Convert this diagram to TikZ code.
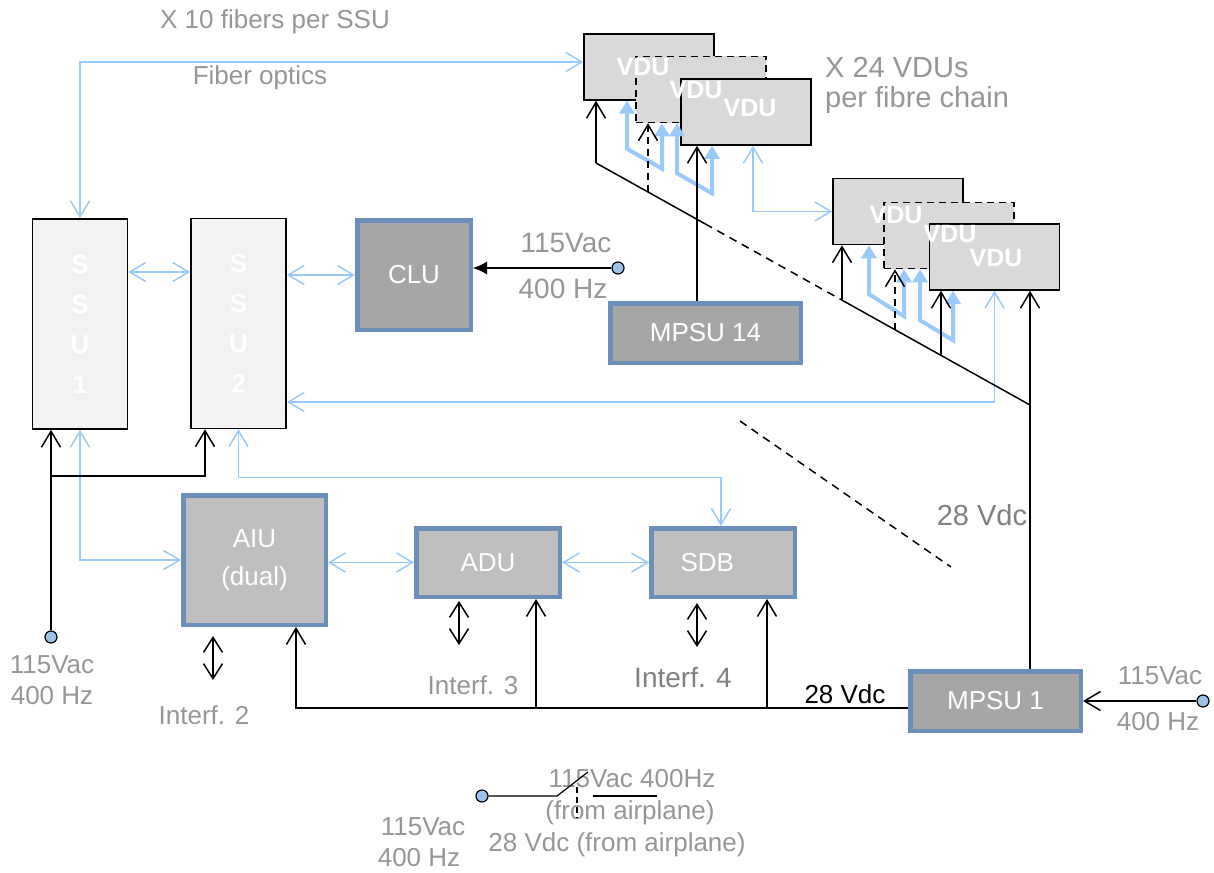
\documentclass[tikz,border=0pt]{standalone}
\usepackage{fontspec}
\setmainfont{Liberation Sans}
\usetikzlibrary{arrows.meta, calc}

\definecolor{unitblue}{RGB}{108,143,186}
\definecolor{unitdark}{RGB}{166,166,166}
\definecolor{unitlight}{RGB}{191,191,191}
\definecolor{vdugray}{RGB}{217,217,217}
\definecolor{ssugray}{RGB}{242,242,242}
\definecolor{fiberblue}{RGB}{153,202,250}
\definecolor{termblue}{RGB}{157,195,235}
\definecolor{notegray}{RGB}{150,150,150}
\definecolor{notedark}{RGB}{128,128,128}

\tikzset{
  ftip/.tip={Straight Barb[length=16pt,width=19pt]},
  ptip/.tip={Straight Barb[length=16pt,width=19pt]},
  itip/.tip={Straight Barb[length=15pt,width=19pt]},
  ctip/.tip={Triangle[length=13pt,width=15pt]}
}

\begin{document}
\begin{tikzpicture}[
    x=1pt, y=-1pt,
    unit/.style={draw=unitblue, line width=4.5pt, fill=unitdark, text=white,
                 font=\fontsize{26}{30}\selectfont, inner sep=0pt},
    vdubox/.style={draw=black, line width=1.5pt, fill=vdugray,
                   minimum width=130pt, minimum height=66pt, inner sep=0pt},
    vdudash/.style={vdubox, dash pattern=on 7pt off 5pt},
    vdulabel/.style={text=white, font=\fontsize{25}{28}\selectfont\bfseries, inner sep=0pt},
    ssubox/.style={draw=black, line width=1.5pt, fill=ssugray, text=white,
                   font=\fontsize{26}{40}\selectfont\bfseries, align=center,
                   minimum width=95pt, minimum height=210pt, inner sep=0pt},
    term/.style={circle, draw, fill=termblue, line width=1.2pt,
                 minimum size=12pt, inner sep=0pt},
    note/.style={text=notegray, font=\fontsize{26}{30}\selectfont, inner sep=0pt},
    fiber/.style={draw=fiberblue, line width=1.5pt, arrows=ftip-ftip},
    chain/.style={draw=fiberblue, line width=4pt, arrows=ctip-ctip},
    power/.style={draw, line width=1.5pt, arrows=-ptip},
    iface/.style={draw, line width=1.5pt, arrows=itip-itip},
    bus/.style={draw, line width=1.5pt},
    busdash/.style={bus, dash pattern=on 8pt off 6pt}
  ]
  \useasboundingbox (0,0) rectangle (1214,872);

  \node[note] (fibers) at (275,22) {X 10 fibers per SSU};
  \node[note] (optics) at (260,78) {Fiber optics};
  \node[note, font=\fontsize{29}{32}\selectfont, anchor=west] (chainA) at (825,68) {X 24 VDUs};
  \node[note, font=\fontsize{29}{32}\selectfont, anchor=west] (chainB) at (825,100) {per fibre chain};

  \node[vdubox] (vduA) at (649,67) {};
  \node[vdudash] (vduB) at (701,89.5) {};
  \node[vdubox] (vduC) at (746,112) {};
  \node[vdubox] (vduD) at (898,211.5) {};
  \node[vdudash] (vduE) at (949,235.5) {};
  \node[vdubox] (vduF) at (994.5,257) {};
  \node[vdulabel] (labA) at (643,67) {VDU};
  \node[vdulabel] (labB) at (696,90) {VDU};
  \node[vdulabel] (labC) at (750,108) {VDU};
  \node[vdulabel] (labD) at (896,215) {VDU};
  \node[vdulabel] (labE) at (950,234) {VDU};
  \node[vdulabel] (labF) at (996,258) {VDU};

  \node[ssubox] (ssu1) at (80,324) {S\\S\\U\\1};
  \node[ssubox] (ssu2) at (238.5,323.5) {S\\S\\U\\2};

  \node[unit, minimum width=113.5pt, minimum height=109.5pt] (clu) at (414,275) {CLU};
  \node[unit, minimum width=190.5pt, minimum height=59.5pt] (mpsu14) at (705.5,333) {MPSU 14};
  \node[unit, fill=unitlight, minimum width=142.5pt, minimum height=129.5pt,
        align=center, font=\fontsize{26}{40}\selectfont] (aiu) at (254.5,560) {AIU\\[-2pt](dual)};
  \node[unit, fill=unitlight, minimum width=143.5pt, minimum height=68.5pt] (adu) at (488,562.5) {ADU};
  \node[unit, fill=unitlight, minimum width=143.5pt, minimum height=68.5pt,
        text width=85pt, align=left] (sdb) at (723,562.5) {SDB};
  \node[unit, minimum width=170.5pt, minimum height=59.5pt] (mpsu1) at (995.5,701) {MPSU 1};

  \node[term] (tclu) at (618,268) {};
  \node[term] (tssu) at (51,637) {};
  \node[term] (tmpsu) at (1203,701) {};
  \node[term] (tsw) at (482,796) {};

  \node[note, font=\fontsize{28}{32}\selectfont] (vacclu) at (566,243) {115Vac};
  \node[note, font=\fontsize{28}{32}\selectfont] (hzclu) at (563,289) {400 Hz};
  \node[note] (vacssu) at (52,665) {115Vac};
  \node[note] (hzssu) at (52,696) {400 Hz};
  \node[note] (vacmpsu) at (1160,676) {115Vac};
  \node[note] (hzmpsu) at (1158,722) {400 Hz};
  \node[note] (vacsw) at (423,827) {115Vac};
  \node[note] (hzsw) at (419,858) {400 Hz};
  \node[note] (ifaiu) at (204,715) {Interf. 2};
  \node[note] (ifadu) at (473,685) {Interf. 3};
  \node[note, text=notedark, font=\fontsize{28}{32}\selectfont] (ifsdb) at (683,677) {Interf. 4};
  \node[font=\fontsize{26}{30}\selectfont, inner sep=0pt] (vdcbus) at (845,694) {28 Vdc};
  \node[note, text=notedark, font=\fontsize{29}{32}\selectfont] (vdcvdu) at (982,515) {28 Vdc};
  \node[note] (swac) at (632,779) {115Vac 400Hz};
  \node[note] (swfrom) at (630,813) {(from airplane)};
  \node[note] (swdc) at (617,845) {28 Vdc (from airplane)};

  \draw[fiber] ([yshift=5pt]vduA.west) -| (ssu1.north);
  \coordinate (ssulink) at ([yshift=52pt]ssu1.east);
  \draw[fiber] (ssulink) -- (ssulink -| ssu2.west);
  \draw[fiber] (clu.west -| ssu2.east) -- (clu.west);
  \coordinate (vduCout) at ([xshift=7pt]vduC.south);
  \draw[fiber] (vduCout) |- (vduD.west);
  \draw[fiber] (vduF.south) |- ([yshift=-78.5pt]ssu2.east);
  \draw[fiber] (ssu1.south) |- (aiu.west);
  \draw[fiber] (ssu2.south) -- ++(0,48) -| ([xshift=-2pt]sdb.north);
  \draw[fiber] (adu.west -| aiu.east) -- (adu.west);
  \draw[fiber] (adu.east) -- (sdb.west);

  \draw[chain] ([xshift=-22pt]vduA.south) -- ++(0,48) -- ++(35,20) -- ([xshift=-39pt]vduB.south);
  \draw[chain] ([xshift=-24pt]vduB.south) -- ++(0,50) -- ++(35,20) -- ([xshift=-34pt]vduC.south);
  \draw[chain] ([xshift=-29pt]vduD.south) -- ++(0,49) -- ++(35,22) -- ([xshift=-45pt]vduE.south);
  \draw[chain] ([xshift=-29pt]vduE.south) -- ++(0,51) -- ++(33,20) -- ([xshift=-41.5pt]vduF.south);

  \coordinate (dtop) at (596,163);
  \coordinate (dend) at (1030,405);
  \coordinate (gapA) at ($(dtop)!0.2512!(dend)$);
  \coordinate (gapB) at ($(dtop)!0.5622!(dend)$);
  \coordinate (pB) at ($(dtop)!0.1198!(dend)$);
  \coordinate (pD) at ($(dtop)!0.5668!(dend)$);
  \coordinate (pE) at ($(dtop)!0.6889!(dend)$);
  \coordinate (pF) at ($(dtop)!0.7949!(dend)$);
  \draw[bus] (dtop) -- (gapA);
  \draw[busdash] (gapA) -- (gapB);
  \draw[bus] (gapB) -- (dend);
  \draw[power] (dtop) -- (dtop |- vduA.south);
  \draw[power, dash pattern=on 7pt off 5pt] (pB) -- (pB |- vduB.south);
  \draw[power] (pD) -- (pD |- vduD.south);
  \draw[power, dash pattern=on 7pt off 5pt] (pE) -- (pE |- vduE.south);
  \draw[power] (pF) -- (pF |- vduF.south);
  \coordinate (m14out) at ([xshift=-8.5pt]mpsu14.north);
  \draw[power] (m14out) -- (m14out |- vduC.south);
  \coordinate (m1out) at ([xshift=34.5pt]mpsu1.north);
  \draw[power] (m1out) -- (m1out |- vduF.south);

  \draw[busdash] (740,421) -- (951,567);

  \draw[line width=1.2pt, -{Latex[length=14pt,width=13pt]}] (tclu) -- (tclu -| clu.east);
  \draw[power] (tssu) -- (tssu |- ssu1.south);
  \coordinate (split) at ([yshift=161pt]tssu);
  \draw[power] (split) -| ([xshift=-33.5pt]ssu2.south);

  \coordinate (aiuin) at ([xshift=41.5pt]aiu.south);
  \coordinate (aduin) at ([xshift=48pt]adu.south);
  \coordinate (sdbin) at ([xshift=44pt]sdb.south);
  \coordinate (feed) at ([yshift=-7pt]mpsu1.west);
  \draw[power] (feed) -| (aiuin);
  \draw[power] (aduin |- feed) -- (aduin);
  \draw[power] (sdbin |- feed) -- (sdbin);
  \draw[power] (tmpsu) -- (mpsu1.east);

  \draw[iface] ([xshift=-41.5pt,yshift=-9pt]aiu.south) -- ++(0,44);
  \draw[iface] ([xshift=-29pt,yshift=-2pt]adu.south) -- ++(0,44);
  \draw[iface] ([xshift=-26pt,yshift=-4pt]sdb.south) -- ++(0,44);

  \draw[line width=1.2pt] (tsw) -- (557,796) -- (588,772);
  \draw[line width=1.2pt, dash pattern=on 6pt off 4pt] (577,787) -- (577,818);
  \draw[line width=1.2pt] (593,796) -- (657,796);
\end{tikzpicture}
\end{document}
